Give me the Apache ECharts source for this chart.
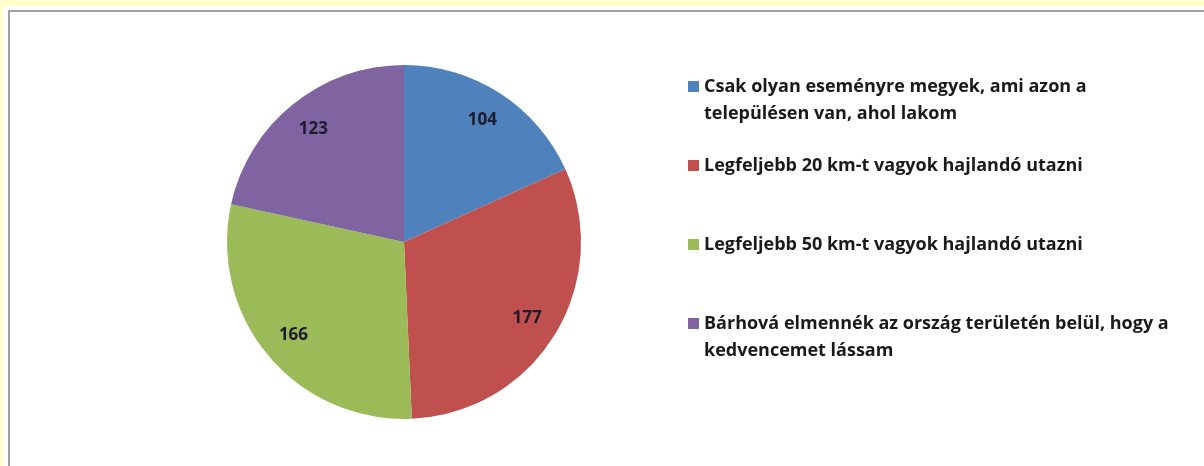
<!DOCTYPE html>
<html>
<head>
<meta charset="utf-8">
<script src="https://cdn.jsdelivr.net/npm/echarts@6/dist/echarts.min.js"></script>
<style>
html, body { margin: 0; padding: 0; background: #ffffcc; overflow: hidden; }
#sheet { position: absolute; left: 3px; top: 6px; width: 1201px; height: 460px; background: #fff; }
#frame { position: absolute; left: 8px; top: 10px; width: 1200px; height: 470px;
  border-left: 2px solid #a0a0a0; border-top: 2px solid #a0a0a0; box-sizing: border-box; }
#show { position: absolute; left: 0; top: 0; width: 1204px; height: 466px; }
</style>
</head>
<body>
<div id="sheet"></div>
<div id="frame"></div>
<div id="show"></div>
<script>
var myChart = echarts.init(document.getElementById("show"));

var kategoriak = [
    "Csak olyan eseményre megyek, ami azon a\ntelepülésen van, ahol lakom",
    "Legfeljebb 20 km-t vagyok hajlandó utazni",
    "Legfeljebb 50 km-t vagyok hajlandó utazni",
    "Bárhová elmennék az ország területén belül, hogy a\nkedvencemet lássam"
];
var ertekek = [104, 177, 166, 123];
var szinek = ['#4f81bd', '#c0504d', '#9bbb59', '#8064a2'];

var adatok = kategoriak.map(function (nev, i) {
    return { name: nev, value: ertekek[i] };
});

var betu = '"Open Sans", "DejaVu Sans", sans-serif';

// one legend per item so the spacing can follow the original
// (first line centre y: 85, 164, 243, 322)
var legendTops = [41, 147, 226, 278];
var legendek = kategoriak.map(function (nev, i) {
    return {
        data: [nev],
        left: 683,
        top: legendTops[i],
        icon: 'rect',
        itemWidth: 11,
        itemHeight: 11,
        itemGap: 0,
        selectedMode: false,
        // empty line on top keeps the icon next to the first line
        formatter: function (n) {
            return n.indexOf('\n') >= 0 ? '\u00a0\n' + n : n;
        },
        textStyle: {
            fontFamily: betu,
            fontWeight: 'bold',
            fontSize: 18,
            color: '#1a1a1a',
            lineHeight: 27
        }
    };
});

myChart.setOption({
    animation: false,
    color: szinek,
    legend: legendek,
    series: [
        {
            type: 'pie',
            center: [404, 242],
            radius: [0, 177],
            startAngle: 90,
            clockwise: true,
            data: adatok,
            label: { show: false },
            labelLine: { show: false },
            silent: true
        },
        {
            // transparent ring only to place the value labels further out
            type: 'pie',
            center: [404, 242],
            radius: [106, 177],
            startAngle: 90,
            clockwise: true,
            data: adatok,
            itemStyle: { color: 'rgba(0,0,0,0)' },
            label: {
                show: true,
                position: 'inside',
                formatter: '{c}',
                fontFamily: betu,
                fontWeight: 'bold',
                fontSize: 17,
                color: '#1c1c2c'
            },
            labelLine: { show: false },
            silent: true
        }
    ]
});
</script>
</body>
</html>
